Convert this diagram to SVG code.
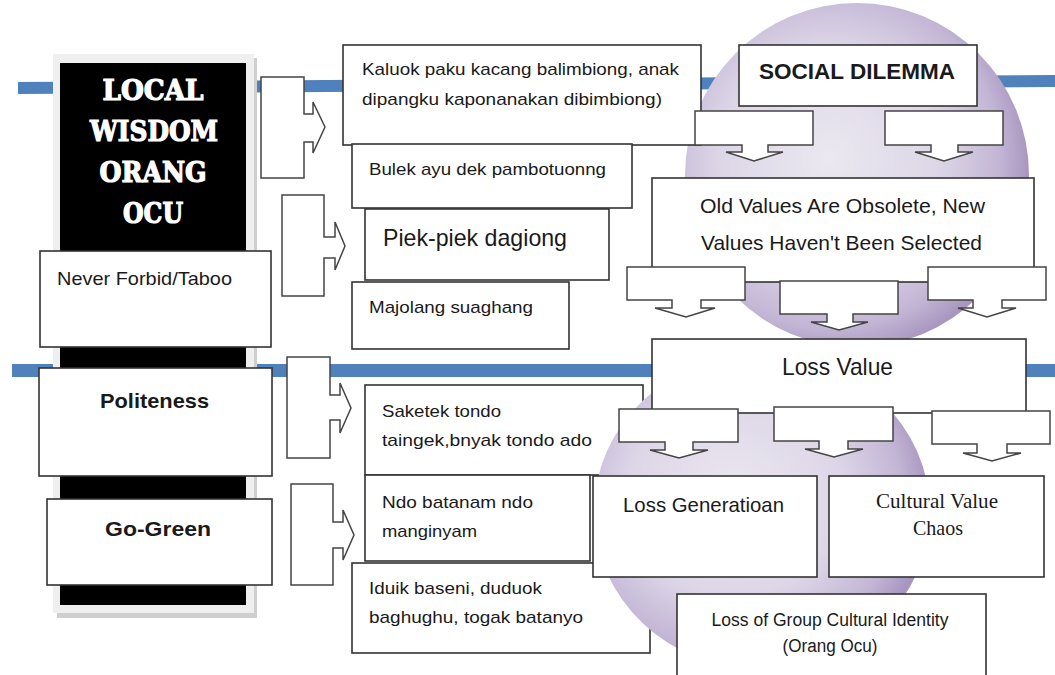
<svg xmlns="http://www.w3.org/2000/svg" width="1055" height="675" viewBox="0 0 1055 675">
<defs>
<radialGradient id="sphere" cx="0.42" cy="0.45" r="0.58">
<stop offset="0" stop-color="#ebe8f0"/>
<stop offset="0.55" stop-color="#ddd6e7"/>
<stop offset="0.85" stop-color="#c3b6d5"/>
<stop offset="1" stop-color="#a896c0"/>
</radialGradient>
<style>
.box{fill:#fff;stroke:#333;stroke-width:1.6}
.arr{fill:#fff;stroke:#444;stroke-width:1.5;stroke-linejoin:miter}
.t{font-family:"Liberation Sans",Arial,sans-serif;fill:#1a1a1a}
.b{font-weight:bold}
.title{font-family:"DejaVu Serif",serif;font-weight:bold;fill:#fff;stroke:#fff;stroke-width:1.2;font-size:27px;text-anchor:middle}
.serif{font-family:"Liberation Serif","Times New Roman",serif;fill:#1a1a1a}
</style>
</defs>
<rect width="1055" height="675" fill="#fff"/>
<g id="bands">
<polygon points="18,82 1055,75 1055,87 18,94" fill="#4f81bd"/>
<rect x="12" y="364" width="1043" height="13" fill="#4f81bd"/>
</g>
<ellipse id="sphere-top" cx="857" cy="175" rx="172" ry="172" fill="url(#sphere)"/>
<g id="local-wisdom">
<rect x="57" y="58" width="200" height="560" fill="#cfcfcf"/>
<rect x="53" y="54" width="201" height="559" fill="#efefef"/>
<rect x="60" y="63" width="186" height="542" fill="#000"/>
<text class="title" x="153" y="100" textLength="101" lengthAdjust="spacingAndGlyphs">LOCAL</text>
<text class="title" x="154" y="141" textLength="128" lengthAdjust="spacingAndGlyphs">WISDOM</text>
<text class="title" x="153" y="182" textLength="107" lengthAdjust="spacingAndGlyphs">ORANG</text>
<text class="title" x="153" y="223" textLength="60" lengthAdjust="spacingAndGlyphs">OCU</text>
</g>
<g id="never-forbid">
<rect class="box" x="40" y="251" width="231" height="96"/>
<text class="t" x="57" y="285" font-size="19" textLength="175" lengthAdjust="spacingAndGlyphs">Never Forbid/Taboo</text>
</g>
<g id="politeness">
<rect class="box" x="39" y="368" width="233" height="108"/>
<text class="t b" x="100" y="408" font-size="21" textLength="109" lengthAdjust="spacingAndGlyphs">Politeness</text>
</g>
<g id="go-green">
<rect class="box" x="47" y="499" width="225" height="86"/>
<text class="t b" x="105" y="536" font-size="21" textLength="106" lengthAdjust="spacingAndGlyphs">Go-Green</text>
</g>
<g id="connectors">
<path class="arr" d="M261,77 H304 V114 H313 V102 L325,127 L313,153 V142 H304 V178 H261 Z"/>
<path class="arr" d="M282,195 H324 V237 H335 V222 L345,246 L335,270 V258 H324 V296 H282 Z"/>
<path class="arr" d="M287,357 H330 V395 H340 V383 L351,408 L340,433 V420 H330 V458 H287 Z"/>
<path class="arr" d="M291,484 H333 V522 H343 V510 L354,535 L343,560 V548 H333 V585 H291 Z"/>
</g>
<g id="kaluok">
<rect class="box" x="343" y="45" width="358" height="100"/>
<text class="t" x="362" y="75" font-size="17" textLength="317" lengthAdjust="spacingAndGlyphs">Kaluok  paku kacang balimbiong,  anak</text>
<text class="t" x="362" y="105" font-size="17" textLength="300" lengthAdjust="spacingAndGlyphs">dipangku  kaponanakan  dibimbiong)</text>
</g>
<g id="bulek">
<rect class="box" x="352" y="144" width="280" height="64"/>
<text class="t" x="369" y="175" font-size="17" textLength="237" lengthAdjust="spacingAndGlyphs">Bulek ayu dek pambotuonng</text>
</g>
<g id="piek">
<rect class="box" x="365" y="209" width="244" height="71"/>
<text class="t" x="383" y="246" font-size="24" textLength="184" lengthAdjust="spacingAndGlyphs">Piek-piek dagiong</text>
</g>
<g id="majolang">
<rect class="box" x="352" y="282" width="217" height="67"/>
<text class="t" x="369" y="313" font-size="17" textLength="164" lengthAdjust="spacingAndGlyphs">Majolang  suaghang</text>
</g>
<g id="saketek">
<rect class="box" x="365" y="385" width="278" height="90"/>
<text class="t" x="382" y="417" font-size="17" textLength="119" lengthAdjust="spacingAndGlyphs">Saketek tondo</text>
<text class="t" x="382" y="446" font-size="17" textLength="210" lengthAdjust="spacingAndGlyphs">taingek,bnyak  tondo ado</text>
</g>
<g id="ndo">
<rect class="box" x="365" y="475" width="225" height="86"/>
<text class="t" x="382" y="508" font-size="17" textLength="151" lengthAdjust="spacingAndGlyphs">Ndo batanam ndo</text>
<text class="t" x="382" y="537" font-size="17" textLength="95" lengthAdjust="spacingAndGlyphs">manginyam</text>
</g>
<g id="iduik">
<rect class="box" x="352" y="563" width="298" height="90"/>
<text class="t" x="369" y="594" font-size="17" textLength="173" lengthAdjust="spacingAndGlyphs">Iduik baseni, duduok</text>
<text class="t" x="369" y="623" font-size="17" textLength="214" lengthAdjust="spacingAndGlyphs">baghughu,  togak batanyo</text>
</g>
<ellipse id="sphere-bottom" cx="762" cy="512" rx="168" ry="158" fill="url(#sphere)"/>
<g id="social-dilemma">
<rect class="box" x="739" y="45" width="238" height="61"/>
<text class="t b" x="759" y="79" font-size="22" textLength="196" lengthAdjust="spacingAndGlyphs">SOCIAL DILEMMA</text>
</g>
<g id="connectors-down">
<path class="arr" d="M695,111 H813 V145 H768 V152 H783 L754,161 L726,152 H742 V145 H695 Z"/>
<path class="arr" d="M885,111 H1003 V145 H958 V152 H973 L944,161 L915,152 H931 V145 H885 Z"/>
</g>
<g id="old-values">
<rect class="box" x="652" y="178" width="382" height="104"/>
<text class="t" x="700" y="213" font-size="21" textLength="285" lengthAdjust="spacingAndGlyphs">Old Values Are Obsolete, New</text>
<text class="t" x="701" y="250" font-size="21" textLength="281" lengthAdjust="spacingAndGlyphs">Values Haven't Been Selected</text>
</g>
<g id="connectors-mid">
<path class="arr" d="M627,267 H745 V300 H701 V308 H715 L686,317 L655,308 H672 V300 H627 Z"/>
<path class="arr" d="M780,281 H898 V314 H853 V322 H868 L839,330 L811,322 H827 V314 H780 Z"/>
<path class="arr" d="M928,267 H1046 V300 H1002 V308 H1016 L987,317 L958,308 H973 V300 H928 Z"/>
</g>
<g id="loss-value">
<rect class="box" x="652" y="339" width="374" height="74"/>
<text class="t" x="782" y="375" font-size="24" textLength="111" lengthAdjust="spacingAndGlyphs">Loss Value</text>
</g>
<g id="connectors-low">
<path class="arr" d="M619,409 H738 V442 H693 V450 H708 L679,458 L650,450 H665 V442 H619 Z"/>
<path class="arr" d="M774,407 H893 V441 H848 V449 H863 L834,457 L805,449 H819 V441 H774 Z"/>
<path class="arr" d="M932,411 H1050 V444 H1007 V453 H1021 L992,461 L963,453 H977 V444 H932 Z"/>
</g>
<g id="loss-generation">
<rect class="box" x="593" y="476" width="224" height="101"/>
<text class="t" x="623" y="512" font-size="21" textLength="161" lengthAdjust="spacingAndGlyphs">Loss Generatioan</text>
</g>
<g id="cultural-value-chaos">
<rect class="box" x="829" y="476" width="215" height="101"/>
<text class="serif" x="937" y="508" font-size="22" text-anchor="middle" textLength="122" lengthAdjust="spacingAndGlyphs">Cultural  Value</text>
<text class="serif" x="938" y="535" font-size="22" text-anchor="middle" textLength="50" lengthAdjust="spacingAndGlyphs">Chaos</text>
</g>
<g id="loss-identity">
<rect class="box" x="677" y="594" width="309" height="90"/>
<text class="t" x="830" y="626" font-size="18" text-anchor="middle" textLength="237" lengthAdjust="spacingAndGlyphs">Loss of Group Cultural Identity</text>
<text class="t" x="830" y="652" font-size="18" text-anchor="middle" textLength="95" lengthAdjust="spacingAndGlyphs">(Orang Ocu)</text>
</g>
</svg>
